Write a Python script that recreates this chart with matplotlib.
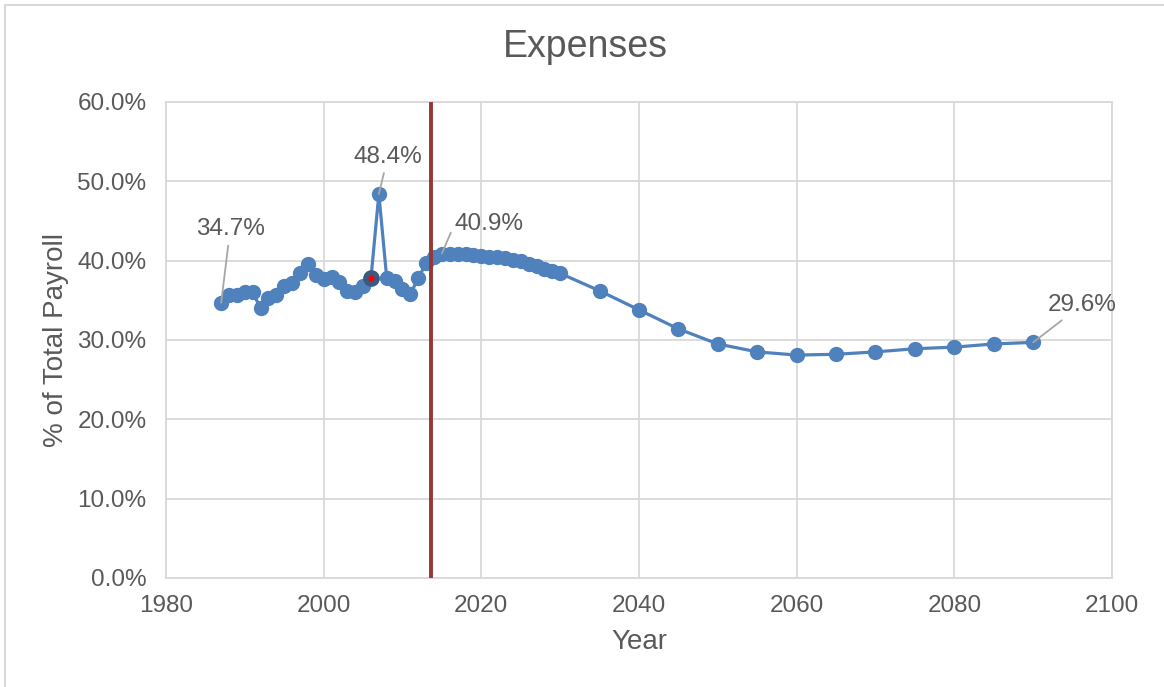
import matplotlib.pyplot as plt
from matplotlib.ticker import FuncFormatter
from matplotlib.patches import Rectangle

plt.rcParams['font.family'] = ['Liberation Sans', 'DejaVu Sans']

years = [1987, 1988, 1989, 1990, 1991, 1992, 1993, 1994, 1995, 1996,
         1997, 1998, 1999, 2000, 2001, 2002, 2003, 2004, 2005, 2006,
         2007, 2008, 2009, 2010, 2011, 2012, 2013, 2014, 2015, 2016,
         2017, 2018, 2019, 2020, 2021, 2022, 2023, 2024, 2025, 2026,
         2027, 2028, 2029, 2030, 2035, 2040, 2045, 2050, 2055, 2060,
         2065, 2070, 2075, 2080, 2085, 2090]
expenses = [34.7, 35.7, 35.7, 36.0, 36.0, 34.0, 35.3, 35.7, 36.8, 37.2,
            38.4, 39.6, 38.2, 37.7, 37.9, 37.3, 36.2, 36.0, 36.8, 37.8,
            48.4, 37.8, 37.4, 36.4, 35.8, 37.8, 39.7, 40.5, 40.9, 40.8,
            40.8, 40.8, 40.7, 40.6, 40.5, 40.4, 40.3, 40.1, 39.9, 39.6,
            39.3, 39.0, 38.7, 38.4, 36.2, 33.8, 31.4, 29.5, 28.5, 28.1,
            28.2, 28.5, 28.9, 29.1, 29.5, 29.7]
highlight_year = 2006
divider_year = 2013.6
labelled = {1987: '34.7%', 2007: '48.4%', 2015: '40.9%', 2090: '29.6%'}

text_color = '#595959'
grid_color = '#D9D9D9'
blue = '#4F81BD'

fig = plt.figure(figsize=(11.64, 6.87), dpi=100)
ax = fig.add_axes([166 / 1164, 1 - 578 / 687, 946 / 1164, 476 / 687])

# chart area border
fig.patches.append(Rectangle((5 / 1164, -0.01), 1.02, 1 - 5 / 687 + 0.01,
                             transform=fig.transFigure, fill=False,
                             edgecolor=grid_color, linewidth=1.5))

ax.plot(years, expenses, color=blue, linewidth=2.3, marker='o',
        markersize=10, zorder=3)
hv = expenses[years.index(highlight_year)]
ax.plot([highlight_year], [hv], marker='o', markersize=11, color='#3B5A80',
        zorder=4)
ax.plot([highlight_year], [hv], marker='o', markersize=3.5, color='red',
        zorder=5)

ax.axvline(divider_year, color='#953735', linewidth=2.8, zorder=4)

ax.set_xlim(1980, 2100)
ax.set_ylim(0, 60)
ax.set_xticks(range(1980, 2101, 20))
ax.set_yticks(range(0, 61, 10))
ax.yaxis.set_major_formatter(FuncFormatter(lambda v, p: f'{v:.1f}%'))
ax.grid(True, color=grid_color, linewidth=1.3, zorder=0)
ax.set_axisbelow(True)
for s in ax.spines.values():
    s.set_color(grid_color)
    s.set_linewidth(1.3)
ax.tick_params(length=0, labelsize=17.5, labelcolor=text_color)
ax.tick_params(axis='y', pad=14)
ax.tick_params(axis='x', pad=12)

fig.text(0.503, 1 - 57 / 687, 'Expenses', fontsize=27,
         color=text_color, ha='center', va='baseline')
ax.set_xlabel('Year', fontsize=20, color=text_color, va='center')
ax.set_ylabel('% of Total Payroll', fontsize=20, color=text_color, va='center')
ax.xaxis.set_label_coords(0.5, (578 - 642) / 476)
ax.yaxis.set_label_coords((56 - 166) / 946, 0.5)

# data labels with leader lines
offsets = {1987: (6.5, 53), 2007: (6.5, 27), 2015: (34, 21), 2090: (35, 27)}
for yr, txt in labelled.items():
    v = expenses[years.index(yr)]
    conn = 'angle,angleA=0,angleB=67,rad=0' if yr == 2015 else 'arc3'
    ax.annotate(txt, xy=(yr, v), xytext=offsets[yr], textcoords='offset points',
                ha='center', va='center', fontsize=17.5, color=text_color,
                arrowprops=dict(arrowstyle='-', color='#A6A6A6', lw=1.3,
                                shrinkA=2, shrinkB=0, connectionstyle=conn),
                zorder=6)

fig.savefig('out.png', dpi=100)
